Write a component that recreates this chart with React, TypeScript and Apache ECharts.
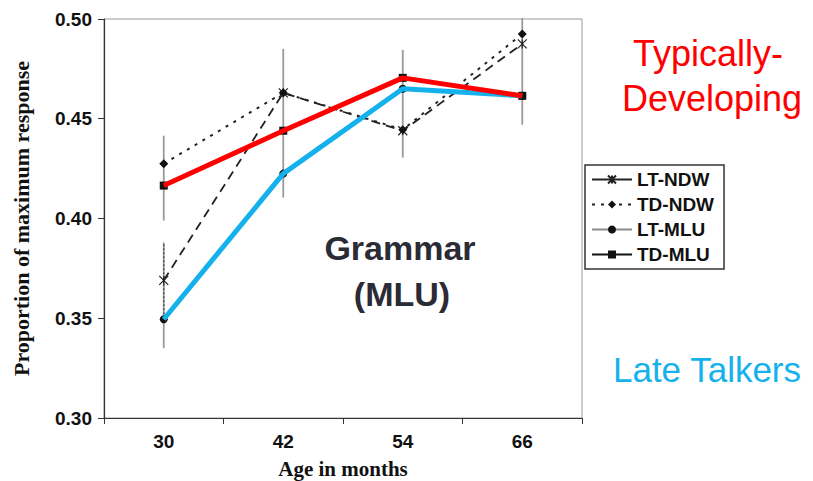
import React, { useEffect, useRef } from "react";
import * as echarts from "echarts";

const ages = ["30", "42", "54", "66"];
const ltNdw = [0.369, 0.463, 0.444, 0.4875];
const tdNdw = [0.4275, 0.463, 0.4445, 0.4925];
const ltMlu = [0.3495, 0.4225, 0.465, 0.4615];
const tdMlu = [0.4165, 0.444, 0.4705, 0.4615];
const yTicks = [0.3, 0.35, 0.4, 0.45, 0.5];

// error bars: category index, low, high, dashed?
const errCat = [0, 0, 0, 1, 2, 3];
const errLow = [0.399, 0.335, 0.35, 0.4105, 0.4305, 0.447];
const errHigh = [0.4415, 0.388, 0.388, 0.485, 0.4845, 0.5005];
const errDashed = [0, 0, 1, 0, 0, 0];

const asteriskPath = "path://M0,0L10,10M10,0L0,10M5,0L5,10";

export default function App() {
  const ref = useRef<HTMLDivElement>(null);
  useEffect(() => {
    if (!ref.current) return;
    const chart = echarts.init(ref.current, null, { renderer: "svg" });
    const errData = errCat.map((c, i) => [c, errLow[i], errHigh[i], errDashed[i]]);
    chart.setOption({
      animation: false,
      backgroundColor: "#ffffff",
      grid: {
        left: 104,
        top: 19,
        right: 231,
        bottom: 63,
        show: true,
        borderColor: "#9a9a9a",
        borderWidth: 1,
        containLabel: false,
        outerBoundsMode: "none",
      },
      legend: {
        orient: "vertical",
        left: 585,
        top: 165,
        data: [
          { name: "LT-NDW", lineStyle: { type: "solid" } },
          { name: "TD-NDW" },
          { name: "LT-MLU" },
          { name: "TD-MLU" },
        ],
        itemWidth: 40,
        itemHeight: 10,
        itemGap: 6,
        padding: [5, 10, 5, 6],
        borderColor: "#333",
        borderWidth: 1.5,
        textStyle: {
          fontFamily: "Liberation Sans, Arial, sans-serif",
          fontWeight: "bold",
          fontSize: 19,
          color: "#111",
        },
      },
      xAxis: {
        type: "category",
        data: ages,
        boundaryGap: true,
        name: "Age in months",
        nameLocation: "middle",
        nameGap: 40,
        nameTextStyle: {
          fontFamily: "Liberation Serif, Times New Roman, serif",
          fontWeight: "bold",
          fontSize: 21,
          color: "#111",
        },
        axisLine: { lineStyle: { color: "#333", width: 1.2 } },
        axisTick: { show: true, inside: false, length: 6, lineStyle: { color: "#333" } },
        axisLabel: {
          margin: 14,
          fontFamily: "Liberation Sans, Arial, sans-serif",
          fontWeight: "bold",
          fontSize: 19,
          color: "#111",
        },
        splitLine: { show: false },
      },
      yAxis: {
        type: "value",
        min: yTicks[0],
        max: yTicks[yTicks.length - 1],
        interval: 0.05,
        name: "Proportion of maximum response",
        nameLocation: "middle",
        nameGap: 72,
        nameRotate: 90,
        nameTextStyle: {
          fontFamily: "Liberation Serif, Times New Roman, serif",
          fontWeight: "bold",
          fontSize: 22,
          color: "#111",
        },
        axisLine: { show: true, lineStyle: { color: "#333", width: 1.2 } },
        axisTick: { show: true, inside: false, length: 6, lineStyle: { color: "#333" } },
        axisLabel: {
          margin: 12,
          fontFamily: "Liberation Sans, Arial, sans-serif",
          fontWeight: "bold",
          fontSize: 19,
          color: "#111",
          formatter: (v: number) => v.toFixed(2),
        },
        splitLine: { show: false },
      },
      series: [
        {
          type: "custom",
          name: "errors",
          z: 1,
          data: errData,
          renderItem: (params: any, api: any) => {
            const c = api.value(0);
            const lo = api.coord([c, api.value(1)]);
            const hi = api.coord([c, api.value(2)]);
            const dashed = api.value(3) === 1;
            return {
              type: "line",
              shape: { x1: lo[0], y1: lo[1], x2: hi[0], y2: hi[1] },
              style: {
                stroke: dashed ? "#555" : "#9a9a9a",
                lineWidth: dashed ? 1.5 : 1.8,
                lineDash: dashed ? [2, 2] : null,
              },
            };
          },
        },
        {
          type: "line",
          name: "LT-NDW",
          data: ltNdw,
          z: 2,
          symbol: asteriskPath,
          symbolSize: 9,
          itemStyle: { color: "#222", borderColor: "#222", borderWidth: 1.2 },
          lineStyle: { color: "#222", width: 1.8, type: [9, 6] },
        },
        {
          type: "line",
          name: "TD-NDW",
          data: tdNdw,
          z: 2,
          symbol: "diamond",
          symbolSize: 9,
          itemStyle: { color: "#111" },
          lineStyle: { color: "#222", width: 2, type: [3, 6] },
        },
        {
          type: "line",
          name: "LT-MLU",
          data: ltMlu,
          z: 2,
          symbol: "circle",
          symbolSize: 8,
          itemStyle: { color: "#111" },
          lineStyle: { color: "#8a8a8a", width: 3 },
        },
        {
          type: "line",
          name: "TD-MLU",
          data: tdMlu,
          z: 2,
          symbol: "rect",
          symbolSize: 8,
          itemStyle: { color: "#111" },
          lineStyle: { color: "#111", width: 2 },
        },
        {
          type: "line",
          name: "LT overlay",
          data: ltMlu,
          z: 4,
          symbol: "none",
          lineStyle: { color: "#14b1ec", width: 5 },
        },
        {
          type: "line",
          name: "TD overlay",
          data: tdMlu,
          z: 5,
          symbol: "none",
          lineStyle: { color: "#ff0000", width: 5 },
        },
      ],
      graphic: [
        {
          type: "text",
          style: {
            text: "Typically-",
            x: 708,
            y: 53,
            align: "center",
            verticalAlign: "middle",
            fill: "#ff0000",
            font: "36px 'Liberation Sans', Arial, sans-serif",
          },
        },
        {
          type: "text",
          style: {
            text: "Developing",
            x: 712,
            y: 98,
            align: "center",
            verticalAlign: "middle",
            fill: "#ff0000",
            font: "36px 'Liberation Sans', Arial, sans-serif",
          },
        },
        {
          type: "text",
          style: {
            text: "Late Talkers",
            x: 707,
            y: 369,
            align: "center",
            verticalAlign: "middle",
            fill: "#14b1ec",
            font: "35px 'Liberation Sans', Arial, sans-serif",
          },
        },
        {
          type: "text",
          style: {
            text: "Grammar",
            x: 400,
            y: 248,
            align: "center",
            verticalAlign: "middle",
            fill: "#2b2b36",
            font: "bold 34px 'Liberation Sans', Arial, sans-serif",
          },
        },
        {
          type: "text",
          style: {
            text: "(MLU)",
            x: 402,
            y: 294,
            align: "center",
            verticalAlign: "middle",
            fill: "#2b2b36",
            font: "bold 34px 'Liberation Sans', Arial, sans-serif",
          },
        },
      ],
    });
    return () => chart.dispose();
  }, []);
  return (
    <div
      ref={ref}
      style={{ position: "fixed", left: 0, top: 0, width: 813, height: 481, background: "#fff" }}
    />
  );
}
